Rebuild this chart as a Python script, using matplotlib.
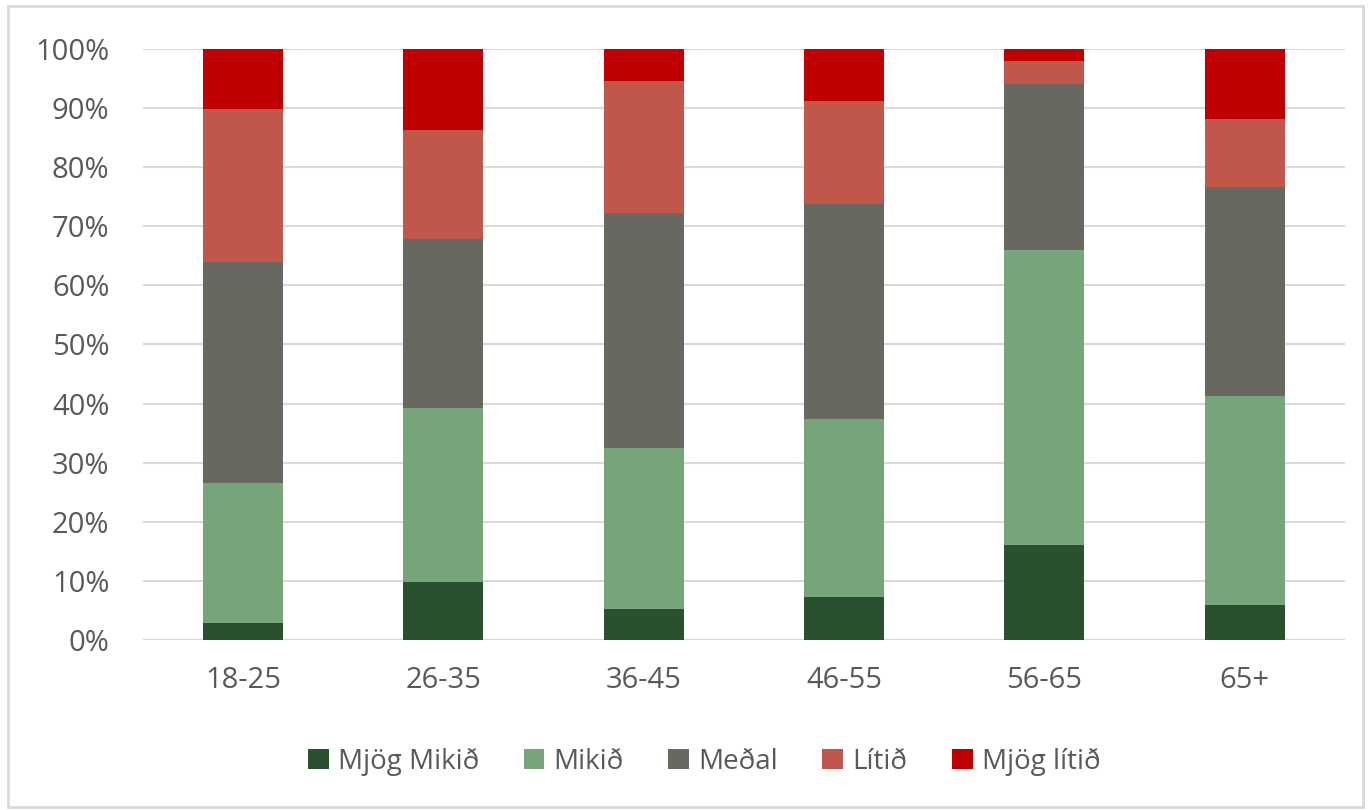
import numpy as np
import matplotlib.pyplot as plt

# Age groups and segment shares (percent)
groups = ['18-25', '26-35', '36-45', '46-55', '56-65', '65+']
series = ['Mjög Mikið', 'Mikið', 'Meðal', 'Lítið', 'Mjög lítið']
mjog_mikid = [2.9, 9.8, 5.2, 7.3, 16.1, 5.9]
mikid = [23.7, 29.5, 27.3, 30.1, 49.9, 35.4]
medal = [37.4, 28.6, 39.8, 36.4, 28.1, 35.3]
litid = [25.8, 18.4, 22.3, 17.4, 3.9, 11.6]
mjog_litid = [10.2, 13.7, 5.4, 8.8, 2.0, 11.8]
colors = ['#29512F', '#76A57C', '#686861', '#C0574A', '#C00000']

plt.rcParams['font.family'] = ['Open Sans', 'DejaVu Sans']
txt = '#595959'

fig = plt.figure(figsize=(13.68, 8.10), dpi=100)
# light frame around the chart
fig.patches.append(plt.Rectangle((0.006, 0.004), 0.99, 0.988, transform=fig.transFigure,
                                 fill=False, edgecolor='#D9D9D9', linewidth=2))
ax = fig.add_axes([0.1045, 0.2099, 0.8785, 0.7296])

x = np.arange(len(groups))
bottom = np.zeros(len(groups))
for name, vals, c in zip(series, [mjog_mikid, mikid, medal, litid, mjog_litid], colors):
    ax.bar(x, vals, 0.4, bottom=bottom, color=c, label=name, zorder=3)
    bottom += np.array(vals)

ax.set_xlim(-0.5, len(groups) - 0.5)
ax.set_ylim(0, 100)
ax.set_yticks(np.arange(0, 101, 10))
ax.set_yticklabels([f'{v}%' for v in range(0, 101, 10)])
ax.set_xticks(x)
ax.set_xticklabels(groups)
ax.tick_params(length=0, labelsize=21, colors=txt)
ax.tick_params(axis='x', pad=19)
ax.tick_params(axis='y', pad=24)
ax.grid(axis='y', color='#D9D9D9', linewidth=1.5, zorder=0)
for s in ax.spines.values():
    s.set_visible(False)

ax.legend(loc='center', bbox_to_anchor=(0.467, -0.206), ncol=5, frameon=False,
          fontsize=20, labelcolor=txt, handlelength=0.75, handleheight=0.75,
          handletextpad=0.33, columnspacing=1.6)

plt.savefig('out.png', dpi=100)
